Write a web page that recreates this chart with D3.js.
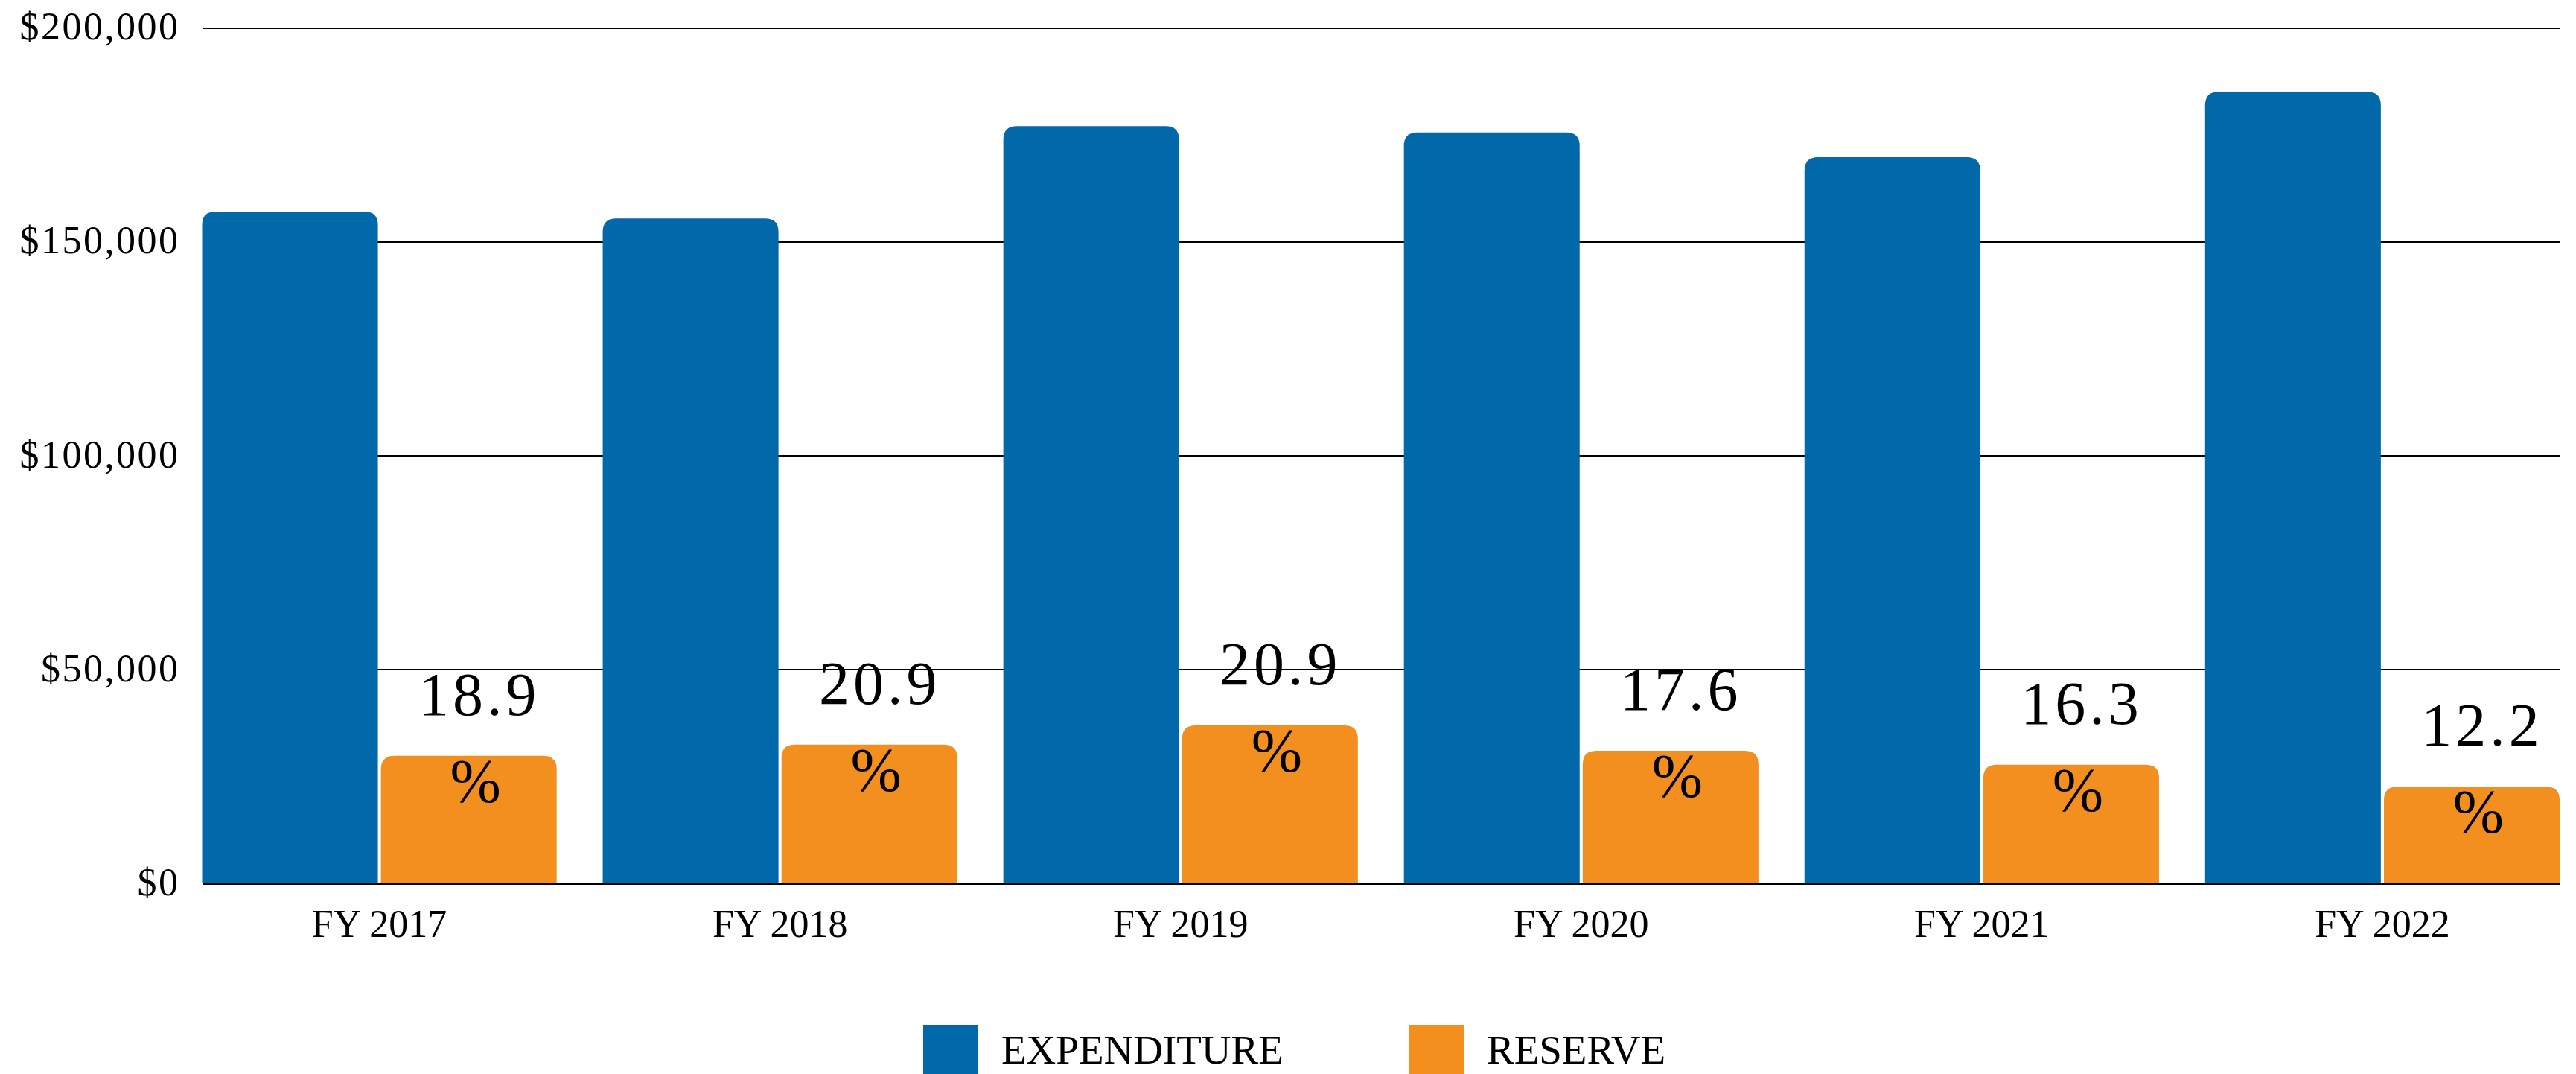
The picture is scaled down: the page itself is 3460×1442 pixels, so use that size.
<!DOCTYPE html>
<html lang="en">
<head>
    <meta charset="UTF-8">
    <title>Expenditure and Reserve</title>
    <script src="https://d3js.org/d3.v7.min.js"></script>
    <style>
        html, body { margin: 0; padding: 0; background: #fff; }
        svg text { font-family: "Liberation Serif", "Times New Roman", serif; fill: #000; }
    </style>
</head>
<body>
    <div id="chart"></div>
    <script>
        // data
        const years = ['FY 2017', 'FY 2018', 'FY 2019', 'FY 2020', 'FY 2021', 'FY 2022'];
        const expenditure = [157000, 155400, 177000, 175500, 169700, 185000];
        const reserve = [29800, 32400, 36900, 31000, 27700, 22600];
        const reservePct = ['18.9', '20.9', '20.9', '17.6', '16.3', '12.2'];
        const seriesNames = ['EXPENDITURE', 'RESERVE'];
        const colors = ['#0169aa', '#f28f1f'];
        const yTicks = [0, 50000, 100000, 150000, 200000];

        const width = 3460, height = 1442;
        const margin = { top: 37, right: 22, bottom: 256, left: 271.5 };
        const plotW = width - margin.left - margin.right;
        const plotH = height - margin.top - margin.bottom;

        const svg = d3.select('#chart')
            .append('svg')
            .attr('width', width)
            .attr('height', height);

        const g = svg.append('g')
            .attr('transform', `translate(${margin.left},${margin.top})`);

        const x = d3.scaleBand()
            .domain(years)
            .range([0, plotW])
            .paddingInner(0.115)
            .paddingOuter(0);

        const xInner = d3.scaleBand()
            .domain(seriesNames)
            .range([0, x.bandwidth()])
            .paddingInner(0.017);

        const y = d3.scaleLinear()
            .domain([0, 200000])
            .range([plotH, 0]);

        // gridlines + y labels
        const yAxis = g.append('g')
            .call(d3.axisLeft(y)
                .tickValues(yTicks)
                .tickSizeInner(-plotW)
                .tickSizeOuter(0)
                .tickPadding(30)
                .tickFormat(d => '$' + d3.format(',')(d)));
        yAxis.select('.domain').remove();
        yAxis.selectAll('line')
            .attr('stroke', '#000')
            .attr('stroke-width', 2)
            .attr('shape-rendering', 'crispEdges');
        yAxis.selectAll('text')
            .attr('font-size', 52)
            .attr('letter-spacing', 2.5)
            .attr('dy', '0.3em');

        // x labels
        g.append('g')
            .selectAll('text')
            .data(years)
            .enter()
            .append('text')
            .attr('x', d => x(d) + x.bandwidth() / 2)
            .attr('y', plotH + 72)
            .attr('text-anchor', 'middle')
            .attr('font-size', 52)
            .text(d => d);

        // bar with rounded top corners only
        function topRounded(x0, y0, w, h, r) {
            r = Math.min(r, w / 2, h);
            return `M${x0},${y0 + h}V${y0 + r}Q${x0},${y0} ${x0 + r},${y0}` +
                `H${x0 + w - r}Q${x0 + w},${y0} ${x0 + w},${y0 + r}V${y0 + h}Z`;
        }

        const rows = years.map((yr, i) => ({
            year: yr,
            vals: [
                { key: 'EXPENDITURE', v: expenditure[i] },
                { key: 'RESERVE', v: reserve[i] }
            ],
            pct: reservePct[i]
        }));

        const groups = g.selectAll('.grp')
            .data(rows)
            .enter()
            .append('g')
            .attr('class', 'grp')
            .attr('transform', d => `translate(${x(d.year)},0)`);

        groups.selectAll('path')
            .data(d => d.vals)
            .enter()
            .append('path')
            .attr('fill', (d, i) => colors[i])
            .attr('d', d => topRounded(xInner(d.key), y(d.v), xInner.bandwidth(), plotH - y(d.v), 18));

        // reserve % labels, wrapped onto two lines
        const lab = groups.append('text')
            .attr('text-anchor', 'middle')
            .attr('font-size', 82);
        lab.append('tspan')
            .attr('x', d => xInner('RESERVE') + xInner.bandwidth() / 2 + 14)
            .attr('y', d => y(d.vals[1].v) - 55)
            .attr('letter-spacing', 5)
            .text(d => d.pct);
        lab.append('tspan')
            .attr('x', d => xInner('RESERVE') + xInner.bandwidth() / 2 + 9)
            .attr('y', d => y(d.vals[1].v) + 61)
            .text('%');

        // legend
        const legend = svg.append('g')
            .attr('transform', 'translate(1240,1376)');
        const legendX = [0, 652];
        seriesNames.forEach((s, i) => {
            legend.append('rect')
                .attr('x', legendX[i])
                .attr('y', 0)
                .attr('width', 74)
                .attr('height', 80)
                .attr('fill', colors[i]);
            legend.append('text')
                .attr('x', legendX[i] + 105)
                .attr('y', 52)
                .attr('font-size', 55)
                .text(s);
        });
    </script>
</body>
</html>
